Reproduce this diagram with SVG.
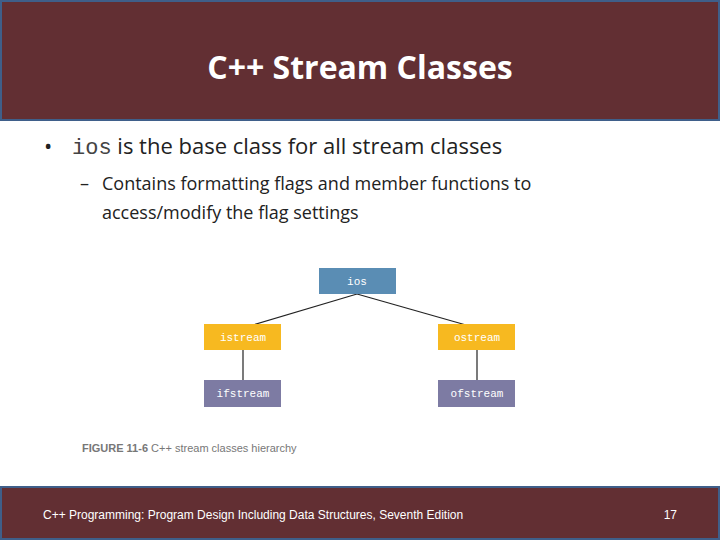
<svg xmlns="http://www.w3.org/2000/svg" width="720" height="540" viewBox="0 0 720 540">
<style>
.bar{fill:#622f33;stroke:#3f5f8a;stroke-width:2}
.mono{font-family:"Liberation Mono",monospace;font-size:11px;fill:#fff;text-anchor:middle}
.body{font-family:"Open Sans","Liberation Sans",sans-serif;fill:#222}
.ln{stroke:#222;stroke-width:1.2;fill:none}
</style>
<rect width="720" height="540" fill="#fff"/>
<rect class="bar" x="1" y="1" width="718" height="119"/>
<text x="360" y="79" text-anchor="middle" font-family="'Open Sans','Liberation Sans',sans-serif" font-weight="bold" font-size="32" fill="#fff">C++ Stream Classes</text>
<text class="body" x="44" y="154" font-size="22">•</text>
<text class="body" x="72" y="154" font-size="22"><tspan font-family="'Liberation Mono',monospace" fill="#444">ios</tspan> is the base class for all stream classes</text>
<text class="body" x="80" y="190" font-size="18">–</text>
<text class="body" x="102" y="190" font-size="18">Contains formatting flags and member functions to</text>
<text class="body" x="102" y="219" font-size="18">access/modify the flag settings</text>
<g id="connectors">
<path class="ln" d="M357 294 L253 325"/>
<path class="ln" d="M357 294 L466 325"/>
<line class="ln" x1="243" y1="350" x2="243" y2="380"/>
<line class="ln" x1="477" y1="350" x2="477" y2="380"/>
</g>
<g id="ios"><rect x="319" y="268" width="77" height="26" fill="#5a8db4"/><text class="mono" x="357" y="285">ios</text></g>
<g id="istream"><rect x="204" y="324" width="77" height="26" fill="#f7b920"/><text class="mono" x="243" y="341" fill="#555">istream</text></g>
<g id="ostream"><rect x="438" y="324" width="77" height="26" fill="#f7b920"/><text class="mono" x="477" y="341" fill="#555">ostream</text></g>
<g id="ifstream"><rect x="204" y="380" width="77" height="27" fill="#7d7ba3"/><text class="mono" x="243" y="397">ifstream</text></g>
<g id="ofstream"><rect x="438" y="380" width="77" height="27" fill="#7d7ba3"/><text class="mono" x="477" y="397">ofstream</text></g>
<text x="82" y="452" font-family="'Liberation Sans',sans-serif" font-size="11" fill="#777"><tspan font-weight="bold">FIGURE 11-6</tspan>   C++ stream classes hierarchy</text>
<rect class="bar" x="1" y="487" width="718" height="52"/>
<text x="43" y="519" font-family="'Liberation Sans',sans-serif" font-size="12" fill="#fff">C++ Programming: Program Design Including Data Structures, Seventh Edition</text>
<text x="677" y="519" text-anchor="end" font-family="'Liberation Sans',sans-serif" font-size="12" fill="#fff">17</text>
</svg>
